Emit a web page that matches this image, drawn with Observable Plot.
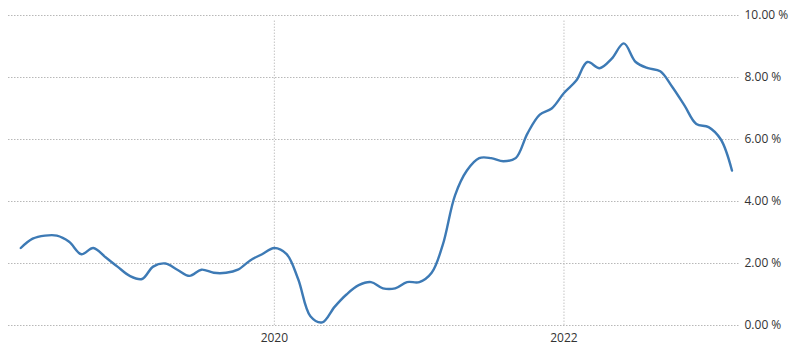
<!DOCTYPE html>
<html>
<head>
<meta charset="utf-8">
<script src="https://cdn.jsdelivr.net/npm/d3@7"></script>
<script src="https://cdn.jsdelivr.net/npm/@observablehq/plot@0.6"></script>
<style>
  html, body { margin: 0; padding: 0; background: #fff; }
  #chart svg { display: block; }
</style>
</head>
<body>
<div id="chart"></div>
<script>
// Monthly values, April 2018 .. March 2023 (percent)
const startMonth = "2018-04";
const values = [
  2.5, 2.8, 2.9, 2.9, 2.7, 2.3, 2.5, 2.2, 1.9,          // 2018 Apr-Dec
  1.6, 1.5, 1.9, 2.0, 1.8, 1.6, 1.8, 1.7, 1.7, 1.8, 2.1, 2.3, // 2019
  2.5, 2.3, 1.5, 0.3, 0.1, 0.6, 1.0, 1.3, 1.4, 1.2, 1.2, 1.4, // 2020
  1.4, 1.7, 2.6, 4.2, 5.0, 5.4, 5.4, 5.3, 5.4, 6.2, 6.8, 7.0, // 2021
  7.5, 7.9, 8.5, 8.3, 8.6, 9.1, 8.5, 8.3, 8.2, 7.7, 7.1, 6.5, // 2022
  6.4, 6.0, 5.0                                            // 2023 Jan-Mar
];
const yTicks = [0, 2, 4, 6, 8, 10];
const xTickYears = [2020, 2022];

const start = new Date(startMonth + "-01T00:00:00");
const data = values.map((v, i) => ({
  date: new Date(start.getFullYear(), start.getMonth() + i, 1),
  value: v
}));
const xTicks = xTickYears.map(y => new Date(y, 0, 1));

const chart = Plot.plot({
  width: 800,
  height: 353,
  marginLeft: 8,
  marginRight: 61,
  marginTop: 15,
  marginBottom: 28,
  style: { fontFamily: "'Open Sans', 'DejaVu Sans', sans-serif", fontSize: "12px", color: "#333", background: "#fff" },
  x: { type: "time", domain: [new Date(2018, 2, 1), new Date(2023, 2, 20)] },
  y: { domain: [0, 10] },
  marks: [
    Plot.gridY(yTicks, { stroke: "#b8b8b8", strokeOpacity: 1, strokeDasharray: "1.5,1.5" }),
    Plot.ruleX(xTicks, { y1: 0, y2: 10, stroke: "#c4c4c4", strokeDasharray: "1.5,1.5", insetBottom: -5 }),
    Plot.axisY(yTicks, { anchor: "right", label: null, tickSize: 0, tickPadding: 5, tickFormat: d => d.toFixed(2) + " %", fill: "#333" }),
    Plot.axisX(xTicks, { label: null, tickSize: 0, tickPadding: 8, tickFormat: d => String(d.getFullYear()), fill: "#333" }),
    Plot.line(data, { x: "date", y: "value", stroke: "#3d7ab5", strokeWidth: 2.4, curve: "catmull-rom" })
  ]
});
document.getElementById("chart").append(chart);
</script>
</body>
</html>
